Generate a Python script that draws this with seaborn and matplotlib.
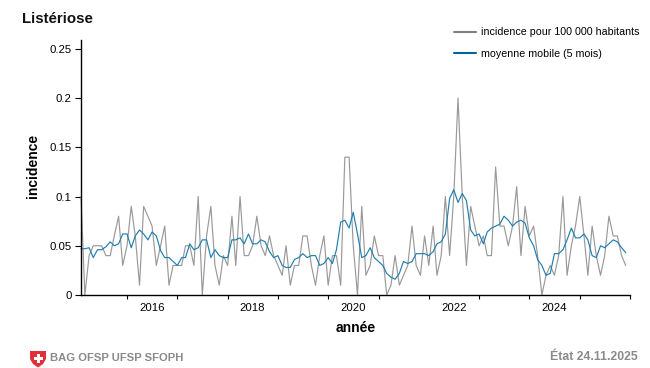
import seaborn as sns
import pandas as pd
import matplotlib.pyplot as plt
import matplotlib.dates as mdates
from matplotlib.patches import Polygon, Rectangle

first_month = "2015-02-01"

incidence = [0.10, 0.00, 0.04, 0.05, 0.05, 0.05, 0.04, 0.04, 0.06, 0.08, 0.03, 0.05, 0.09, 0.06, 0.01, 0.09,
             0.08, 0.07, 0.03, 0.05, 0.07, 0.01, 0.03, 0.03, 0.03, 0.05, 0.05, 0.03, 0.10, 0.00, 0.06, 0.09,
             0.03, 0.01, 0.04, 0.03, 0.08, 0.03, 0.10, 0.04, 0.04, 0.05, 0.08, 0.05, 0.04, 0.06, 0.04, 0.03,
             0.02, 0.05, 0.01, 0.03, 0.03, 0.06, 0.06, 0.03, 0.01, 0.04, 0.06, 0.01, 0.04, 0.04, 0.01, 0.14,
             0.14, 0.05, 0.00, 0.09, 0.02, 0.03, 0.06, 0.04, 0.04, 0.00, 0.01, 0.04, 0.01, 0.02, 0.03, 0.07,
             0.03, 0.02, 0.06, 0.03, 0.07, 0.02, 0.04, 0.10, 0.04, 0.10, 0.20, 0.10, 0.03, 0.09, 0.07, 0.05,
             0.06, 0.04, 0.04, 0.13, 0.07, 0.07, 0.05, 0.07, 0.11, 0.04, 0.09, 0.06, 0.07, 0.04, 0.00, 0.02,
             0.03, 0.02, 0.04, 0.10, 0.02, 0.05, 0.07, 0.10, 0.06, 0.02, 0.07, 0.04, 0.02, 0.04, 0.08, 0.06,
             0.06, 0.04, 0.03]

moyenne = [0.047, 0.047, 0.048, 0.038, 0.046, 0.046, 0.049, 0.054, 0.050, 0.052, 0.062, 0.062, 0.048, 0.060,
           0.066, 0.062, 0.056, 0.064, 0.060, 0.045, 0.038, 0.038, 0.034, 0.030, 0.038, 0.038, 0.052, 0.046,
           0.048, 0.056, 0.056, 0.038, 0.046, 0.040, 0.038, 0.038, 0.056, 0.056, 0.058, 0.052, 0.062, 0.052,
           0.052, 0.056, 0.054, 0.044, 0.038, 0.040, 0.030, 0.028, 0.028, 0.036, 0.038, 0.042, 0.038, 0.040,
           0.040, 0.030, 0.032, 0.038, 0.032, 0.046, 0.074, 0.076, 0.068, 0.084, 0.062, 0.038, 0.040, 0.048,
           0.038, 0.034, 0.030, 0.022, 0.018, 0.016, 0.022, 0.034, 0.032, 0.034, 0.042, 0.042, 0.042, 0.040,
           0.044, 0.052, 0.054, 0.062, 0.098, 0.107, 0.094, 0.103, 0.096, 0.066, 0.060, 0.062, 0.052, 0.064,
           0.068, 0.070, 0.072, 0.080, 0.076, 0.070, 0.074, 0.076, 0.073, 0.058, 0.050, 0.036, 0.030, 0.020,
           0.022, 0.042, 0.042, 0.046, 0.056, 0.068, 0.058, 0.058, 0.062, 0.056, 0.040, 0.038, 0.050, 0.048,
           0.052, 0.056, 0.054, 0.048, 0.043]

y_ticks = [0, 0.05, 0.1, 0.15, 0.2, 0.25]
y_tick_labels = ["0", "0.05", "0.1", "0.15", "0.2", "0.25"]
year_labels = [2016, 2018, 2020, 2022, 2024]

months = pd.date_range(first_month, periods=len(incidence), freq="MS")
df = pd.DataFrame({"mois": months, "incidence": incidence, "moyenne": moyenne})

sns.set_theme(style="ticks")
plt.rcParams["font.family"] = ["Liberation Sans", "DejaVu Sans"]

fig = plt.figure(figsize=(6.5, 3.68), dpi=100)
ax = fig.add_axes([81 / 650, 1 - 295 / 368, 549 / 650, 255 / 368])

sns.lineplot(data=df, x="mois", y="incidence", color="#999999", linewidth=0.85, ax=ax,
             label="incidence pour 100 000 habitants", clip_on=False)
sns.lineplot(data=df, x="mois", y="moyenne", color="#1f7fb0", linewidth=0.85, ax=ax,
             label="moyenne mobile (5 mois)", clip_on=False)

ax.set_xlim(pd.Timestamp(first_month), pd.Timestamp("2026-01-01"))
ax.set_ylim(0, 0.259)
ax.set_yticks(y_ticks)
ax.set_yticklabels(y_tick_labels)
ax.xaxis.set_major_locator(mdates.YearLocator())
ax.xaxis.set_major_formatter(plt.NullFormatter())
for year in year_labels:
    ax.annotate(str(year), (pd.Timestamp(f"{year}-07-01"), 0), xytext=(0, -6), textcoords="offset points",
                ha="center", va="top", fontsize=8.2, color="black")

ax.tick_params(axis="y", length=4.3, width=0.8, color="black", labelsize=8.2, labelcolor="black", pad=2.5)
ax.tick_params(axis="x", length=3.2, width=0.8, color="black")
sns.despine(ax=ax)
for side in ["left", "bottom"]:
    ax.spines[side].set_linewidth(1.0)
    ax.spines[side].set_color("black")

ax.set_xlabel("")
ax.set_ylabel("")
fig.text(356 / 650, 1 - 328.5 / 368, "année", ha="center", va="center", fontsize=10, fontweight="bold", color="black")
fig.text(33 / 650, 1 - 166 / 368, "incidence", ha="center", va="center", rotation=90, fontsize=10, fontweight="bold", color="black")
fig.text(22 / 650, 1 - 19 / 368, "Listériose", ha="left", va="center", fontsize=10.8, fontweight="bold", color="#111111")

leg = ax.legend(loc="upper left", bbox_to_anchor=((454 - 81) / 549, 1.05), frameon=False, fontsize=7.7,
                handlelength=2.06, handletextpad=0.47, labelspacing=1.08, borderpad=0, borderaxespad=0)
for line in leg.get_lines():
    line.set_linewidth(1.5)
for text in leg.get_texts():
    text.set_color("black")
leg.get_lines()[0].set_color("#808080")
leg.get_lines()[1].set_color("#006699")

fig.text(50 / 650, 1 - 358 / 368, "BAG OFSP UFSP SFOPH", ha="left", va="center", fontsize=8.1,
         fontweight="bold", color="#8a8a8a")
fig.text(638 / 650, 1 - 357 / 368, "État 24.11.2025", ha="right", va="center", fontsize=8.8,
         fontweight="bold", color="#8a8a8a")

# swiss shield, in pixels of the figure
def px(x, y):
    return (x / 650, 1 - y / 368)

fig.add_artist(Polygon([px(30, 351), px(46, 351), px(46, 359), px(43, 364), px(38, 367.5), px(33, 364), px(30, 359)],
                       closed=True, facecolor="#e1303a", edgecolor="none", transform=fig.transFigure))
fig.add_artist(Rectangle(px(36.5, 362.5), 3 / 650, 9 / 368, facecolor="white", edgecolor="none", transform=fig.transFigure))
fig.add_artist(Rectangle(px(33.5, 359.5), 9 / 650, 3 / 368, facecolor="white", edgecolor="none", transform=fig.transFigure))

fig.savefig("out.png", dpi=100)
